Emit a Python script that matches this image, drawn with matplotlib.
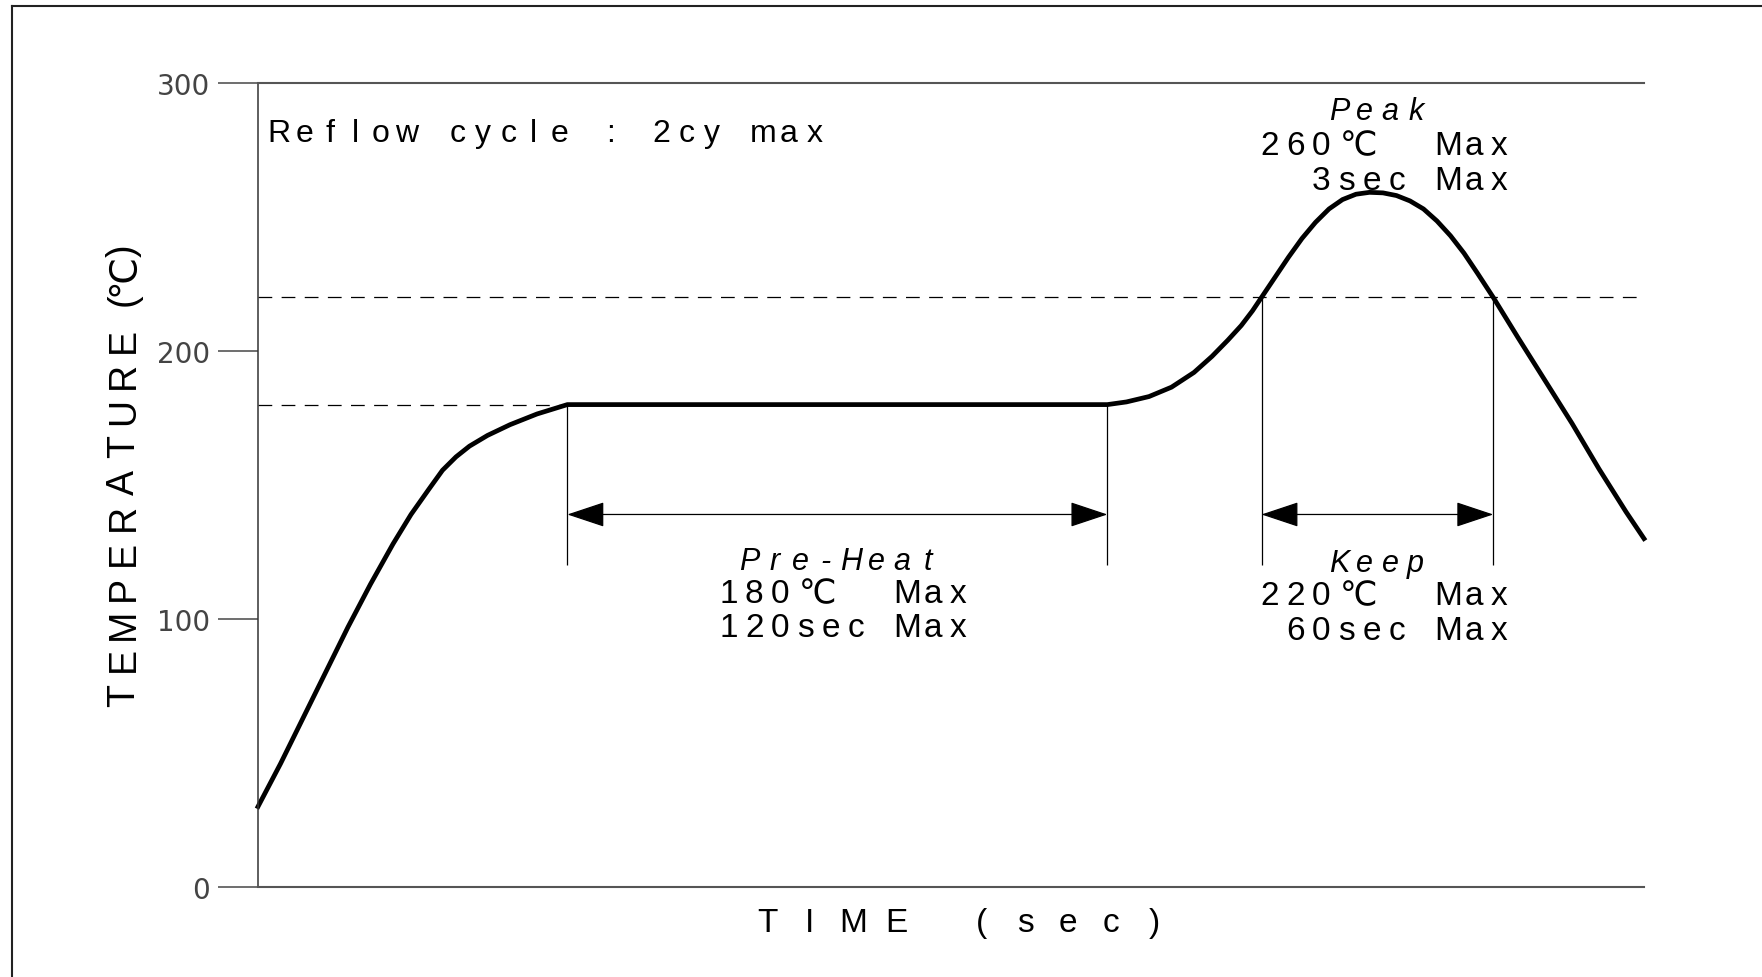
import matplotlib.pyplot as plt
from matplotlib.lines import Line2D

# Reflow profile (time in sec, temperature in deg C)
time_s = [0, 5, 10, 15, 20, 25, 30, 34, 38, 41, 44, 47, 51, 56, 62, 68.75,
          188.75, 193, 198, 203, 208, 212, 215.5, 218.5, 221, 223, 226, 229, 232, 235,
          238, 241, 244, 247, 250, 253, 256, 259, 262, 265, 268, 271, 274.5,
          280, 286, 292, 298, 304, 308]
temp_c = [30, 46, 63, 80, 97, 113, 128, 139, 148.5, 155.5, 160.5, 164.5, 168.5, 172.5, 176.5, 180,
          180, 181, 183, 186.5, 192, 198, 204, 209.5, 215, 220, 227.5, 235, 242, 248,
          253, 256.5, 258.5, 259.2, 259, 258, 256, 253, 248.5, 243, 236.5, 229, 220,
          205, 189, 173, 156, 140, 130]

preheat_start, preheat_end = 68.75, 188.75
keep_start, keep_end = 223, 274.5
preheat_temp = 180
keep_temp = 220
bracket_temp = 139
leader_bottom = 120
time_max = 308
y_ticks = [0, 100, 200, 300]

# Figure size in pixels
PX_W, PX_H = 1762, 978
FONT = ['Liberation Sans', 'DejaVu Sans']

fig = plt.figure(figsize=(PX_W / 100, PX_H / 100), dpi=100)


def cell_text(x0, base, s, pitch, size, style='normal', vertical=False):
    """Lay s out in fixed-width cells like the CAD font (pixels from top-left)."""
    pos = 0
    for ch in s:
        cells = 2 if ch == '\u2103' else 1
        mid = pos + cells * pitch / 2
        if ch != ' ':
            if vertical:
                x, y, rot = base, x0 - mid, 90
            else:
                x, y, rot = x0 + mid, base, 0
            fig.text(x / PX_W, 1 - y / PX_H, ch, fontsize=size, family=FONT, style=style,
                     rotation=rot, rotation_mode='anchor', ha='center', va='baseline')
        pos += cells * pitch


# Frame around the drawing (left and top edges only)
fig.add_artist(Line2D([12 / PX_W, 12 / PX_W], [0, 1 - 7 / PX_H], color='#222222', lw=1.5))
fig.add_artist(Line2D([12 / PX_W, 1], [1 - 7 / PX_H, 1 - 7 / PX_H], color='#222222', lw=1.5))

ax = fig.add_axes([258 / PX_W, 1 - 888 / PX_H, (1644 - 258) / PX_W, (888 - 84) / PX_H])
ax.set_xlim(0, time_max)
ax.set_ylim(0, 300)

# Profile curve
ax.plot(time_s, temp_c, color='black', lw=3.4, solid_joinstyle='round', clip_on=False)

# Dashed reference levels
dash = (0, (11, 7.5))
ax.plot([0, time_max], [keep_temp, keep_temp], color='black', lw=0.9, ls=dash)
ax.plot([0, preheat_start], [preheat_temp, preheat_temp], color='black', lw=0.9, ls=dash)

# Leader lines and dimension arrows
ax.vlines([preheat_start, preheat_end], leader_bottom, preheat_temp, color='black', lw=0.9)
ax.vlines([keep_start, keep_end], leader_bottom, keep_temp, color='black', lw=0.9)
arrow = dict(arrowstyle='<|-|>,head_length=2.4,head_width=0.8', mutation_scale=10,
             color='black', lw=0.9, shrinkA=0, shrinkB=0)
ax.annotate('', xy=(preheat_start, bracket_temp), xytext=(preheat_end, bracket_temp),
            arrowprops=arrow)
ax.annotate('', xy=(keep_start, bracket_temp), xytext=(keep_end, bracket_temp),
            arrowprops=arrow)

# Axes styling
ax.spines['right'].set_visible(False)
ax.spines['left'].set_color('#333333')
ax.spines['left'].set_linewidth(1.1)
for side in ['top', 'bottom']:
    ax.spines[side].set_color('#555555')
    ax.spines[side].set_linewidth(1.5)
ax.set_xticks([])
ax.set_yticks(y_ticks)
ax.set_yticklabels([str(v) for v in y_ticks])
ax.tick_params(axis='y', direction='out', length=28.8, width=1.2, color='#555555',
               pad=5.8, labelsize=20, labelcolor='#444444')

# Texts
cell_text(266, 142, 'Reflow cycle : 2cy max', 25.5, 23)

cell_text(1250, 120, '   Peak', 25.5, 22, style='italic')
cell_text(1257, 155, '260\u2103  Max', 25.5, 24)
cell_text(1257, 190, '  3sec Max', 25.5, 24)

cell_text(711, 570, ' Pre-Heat', 25.5, 22, style='italic')
cell_text(716, 603, '180\u2103  Max', 25.5, 24)
cell_text(716, 637, '120sec Max', 25.5, 24)

cell_text(1250, 572, '   Keep', 25.5, 22, style='italic')
cell_text(1257, 605, '220\u2103  Max', 25.5, 24)
cell_text(1257, 640, ' 60sec Max', 25.5, 24)

cell_text(745.5, 932, 'TIME (sec)', 43, 24)
cell_text(713, 134, 'TEMPERATURE', 35.5, 27, vertical=True)
cell_text(308, 134, '(\u2103)', 16.3, 27, vertical=True)

fig.savefig('out.png', dpi=100)
